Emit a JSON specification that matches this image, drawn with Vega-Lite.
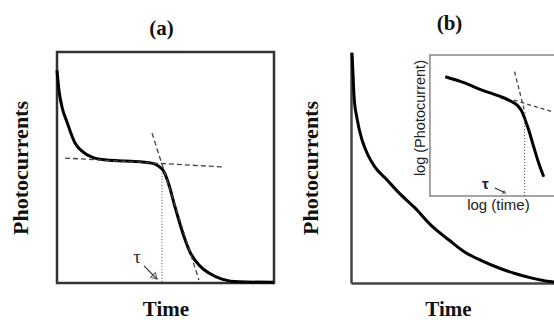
{
  "$schema": "https://vega.github.io/schema/vega-lite/v6.json",
  "padding": {"left": 7, "top": 12, "right": 0, "bottom": 0},
  "background": "white",
  "spacing": 77,
  "bounds": "flush",
  "config": {
    "axis": {"labels": false, "ticks": false, "grid": false, "titleFont": "Liberation Serif", "titleFontWeight": "bold", "titleFontSize": 22, "titleColor": "#111"},
    "title": {"font": "Liberation Serif", "fontWeight": "bold", "fontSize": 21, "color": "#111"}
  },
  "hconcat": [
    {
      "width": 217,
      "height": 231,
      "title": {"text": "(a)", "dx": -4, "offset": 13},
      "view": {"stroke": "#333", "strokeWidth": 2.5},
      "encoding": {
        "x": {"field": "x", "type": "quantitative", "scale": {"domain": [0, 100], "nice": false, "zero": false}, "axis": {"title": "Time", "domain": false, "titlePadding": 15, "titleFontSize": 21}},
        "y": {"field": "y", "type": "quantitative", "scale": {"domain": [0, 100], "nice": false, "zero": false}, "axis": {"title": "Photocurrents", "domain": false, "titlePadding": 25}}
      },
      "layer": [
        {
          "data": {"values": [
            {"x": 0, "y": 92}, {"x": 0.9, "y": 83.5}, {"x": 2.3, "y": 76.2}, {"x": 4.6, "y": 69.7}, {"x": 8.3, "y": 60.6},
            {"x": 11.5, "y": 57.1}, {"x": 16.1, "y": 54.5}, {"x": 23.0, "y": 53.2}, {"x": 31.3, "y": 52.8}, {"x": 39.2, "y": 52.4},
            {"x": 43.8, "y": 51.9}, {"x": 46.5, "y": 50.8}, {"x": 49.3, "y": 48.2}, {"x": 51.6, "y": 42.4}, {"x": 54.4, "y": 32.9},
            {"x": 56.7, "y": 25.5}, {"x": 58.9, "y": 19.0}, {"x": 61.3, "y": 13.4}, {"x": 65.4, "y": 7.8}, {"x": 70.0, "y": 4.3},
            {"x": 76.0, "y": 1.7}, {"x": 84.0, "y": 0.5}, {"x": 100, "y": 0.3}
          ]},
          "mark": {"type": "line", "color": "#000", "strokeWidth": 3, "interpolate": "monotone"}
        },
        {
          "data": {"values": [{"x": 3.7, "y": 54.1}, {"x": 77.0, "y": 50.2}]},
          "mark": {"type": "line", "color": "#444", "strokeWidth": 1.3, "strokeDash": [5, 3]}
        },
        {
          "data": {"values": [{"x": 43.8, "y": 64.9}, {"x": 65.4, "y": 1.3}]},
          "mark": {"type": "line", "color": "#444", "strokeWidth": 1.3, "strokeDash": [5, 3]}
        },
        {
          "data": {"values": [{"x": 48.4, "y": 49.0}, {"x": 48.4, "y": 0}]},
          "mark": {"type": "line", "color": "#444", "strokeWidth": 1, "strokeDash": [1, 2]}
        },
        {
          "data": {"values": [{"x": 40.1, "y": 7.4}, {"x": 46.0, "y": 1.8}]},
          "mark": {"type": "line", "color": "#333", "strokeWidth": 1.2}
        },
        {
          "data": {"values": [{"x": 45.2, "y": 2.6}]},
          "mark": {"type": "point", "shape": "triangle-right", "angle": 45, "filled": false, "size": 45, "color": "#333", "strokeWidth": 1.2}
        },
        {
          "data": {"values": [{"x": 36.9, "y": 10.8, "label": "τ"}]},
          "mark": {"type": "text", "font": "Liberation Serif", "fontSize": 18, "color": "#222"},
          "encoding": {"text": {"field": "label"}}
        }
      ]
    },
    {
      "width": 205,
      "height": 231,
      "title": {"text": "(b)", "dx": -4, "offset": 13},
      "view": {"stroke": null},
      "encoding": {
        "x": {"field": "x", "type": "quantitative", "scale": {"domain": [0, 100], "nice": false, "zero": false}, "axis": {"title": "Time", "domain": true, "domainColor": "#444", "domainWidth": 2.5, "titlePadding": 15, "titleFontSize": 21, "titleX": 97}},
        "y": {"field": "y", "type": "quantitative", "scale": {"domain": [0, 100], "nice": false, "zero": false}, "axis": {"title": "Photocurrents", "domain": true, "domainColor": "#444", "domainWidth": 2.5, "titlePadding": 29}}
      },
      "layer": [
        {
          "data": {"values": [
            {"x": 0.5, "y": 99.6}, {"x": 1.0, "y": 90.0}, {"x": 1.5, "y": 80.5}, {"x": 2.9, "y": 71.4}, {"x": 5.4, "y": 61.9},
            {"x": 8.3, "y": 55.4}, {"x": 11.7, "y": 50.2}, {"x": 17.6, "y": 44.6}, {"x": 23.4, "y": 39.0}, {"x": 31.2, "y": 32.5},
            {"x": 39.5, "y": 24.6}, {"x": 47.8, "y": 18.6}, {"x": 55.6, "y": 13.3}, {"x": 63.9, "y": 9.6}, {"x": 72.2, "y": 6.5},
            {"x": 80.0, "y": 4.1}, {"x": 88.3, "y": 2.1}, {"x": 95.6, "y": 0.8}, {"x": 100, "y": 0.4}
          ]},
          "mark": {"type": "line", "color": "#000", "strokeWidth": 3, "interpolate": "monotone"}
        },
        {
          "data": {"values": [{"x": 100, "y": 98.7, "o": 1}, {"x": 38.5, "y": 98.7, "o": 2}, {"x": 38.5, "y": 37.7, "o": 3}, {"x": 100, "y": 37.7, "o": 4}]},
          "mark": {"type": "line", "color": "#888", "strokeWidth": 1.5},
          "encoding": {"order": {"field": "o", "type": "quantitative"}}
        },
        {
          "data": {"values": [
            {"x": 46.0, "y": 89.3}, {"x": 55.8, "y": 86.5}, {"x": 63.9, "y": 83.5}, {"x": 72.0, "y": 81.0}, {"x": 76.9, "y": 79.2},
            {"x": 80.9, "y": 77.1}, {"x": 83.4, "y": 74.2}, {"x": 85.0, "y": 70.6}, {"x": 86.7, "y": 66.2}, {"x": 89.1, "y": 59.0},
            {"x": 91.6, "y": 51.8}, {"x": 94.0, "y": 46.0}
          ]},
          "mark": {"type": "line", "color": "#000", "strokeWidth": 3, "interpolate": "monotone"}
        },
        {
          "data": {"values": [{"x": 79.8, "y": 91.5}, {"x": 84.9, "y": 73.5}]},
          "mark": {"type": "line", "color": "#444", "strokeWidth": 1.3, "strokeDash": [4, 3]}
        },
        {
          "data": {"values": [{"x": 79.4, "y": 79.2}, {"x": 98.0, "y": 74.2}]},
          "mark": {"type": "line", "color": "#444", "strokeWidth": 1.3, "strokeDash": [4, 3]}
        },
        {
          "data": {"values": [{"x": 84.7, "y": 70.6}, {"x": 84.7, "y": 37.7}]},
          "mark": {"type": "line", "color": "#444", "strokeWidth": 1, "strokeDash": [1, 2]}
        },
        {
          "data": {"values": [{"x": 70.2, "y": 41.1}, {"x": 74.6, "y": 39.3}]},
          "mark": {"type": "line", "color": "#333", "strokeWidth": 1.2}
        },
        {
          "data": {"values": [{"x": 75.0, "y": 39.1}]},
          "mark": {"type": "point", "shape": "triangle-right", "angle": 25, "filled": true, "size": 20, "color": "#333"}
        },
        {
          "data": {"values": [{"x": 65.5, "y": 42.8, "label": "τ"}]},
          "mark": {"type": "text", "font": "Liberation Sans", "fontWeight": "bold", "fontSize": 15, "color": "#222"},
          "encoding": {"text": {"field": "label"}}
        },
        {
          "data": {"values": [{"x": 71.9, "y": 33.6, "label": "log (time)"}]},
          "mark": {"type": "text", "font": "Liberation Sans", "fontSize": 15, "color": "#222"},
          "encoding": {"text": {"field": "label"}}
        },
        {
          "data": {"values": [{"x": 34.1, "y": 71.4, "label": "log (Photocurrent)"}]},
          "mark": {"type": "text", "font": "Liberation Sans", "fontSize": 14.5, "color": "#222", "angle": 270},
          "encoding": {"text": {"field": "label"}}
        }
      ]
    }
  ]
}
